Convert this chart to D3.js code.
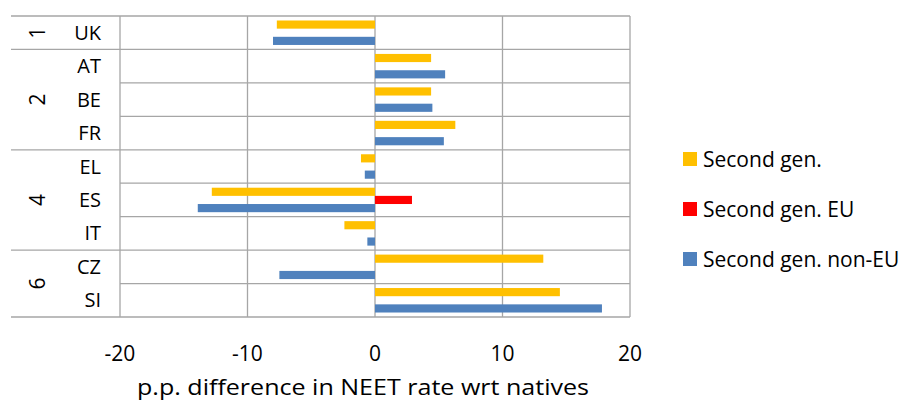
<!DOCTYPE html>
<html><head><meta charset="utf-8">
<script src="https://cdn.jsdelivr.net/npm/d3@7"></script>
<style>body{margin:0;background:#fff}text{font-family:"Open Sans",sans-serif;fill:#000}</style>
</head><body><svg id="c" width="921" height="403"></svg>
<script>
const countries = ["UK","AT","BE","FR","EL","ES","IT","CZ","SI"];
const groups = [{name:"1", from:0, to:1},{name:"2", from:1, to:4},{name:"4", from:4, to:7},{name:"6", from:7, to:9}];
const secondGen = [-7.7,4.4,4.4,6.3,-1.1,-12.8,-2.4,13.2,14.5];
const secondGenEU = [null,null,null,null,null,2.9,null,null,null];
const secondGenNonEU = [-8.0,5.5,4.5,5.4,-0.8,-13.9,-0.6,-7.5,17.8];
const seriesNames = ["Second gen.","Second gen. EU","Second gen. non-EU"];
const colors = ["#FFC000","#FF0000","#4F81BD"];
const xTicks = [-20,-10,0,10,20];

const svg = d3.select("#c");
const L = 120, R = 630, T = 16, B = 317;
const x = d3.scaleLinear().domain([-20,20]).range([L,R]);
const y = d3.scaleBand().domain(countries).range([T,B]);
const sub = d3.scaleBand().domain([0,1,2]).range([0,y.bandwidth()]).paddingInner(0).paddingOuter(0.55);
const line = "#a6a6a6";

// vertical gridlines
svg.selectAll(".vg").data(xTicks).join("line")
  .attr("x1",d=>x(d)).attr("x2",d=>x(d)).attr("y1",T).attr("y2",B)
  .attr("stroke",line).attr("stroke-width",1.3);
// row lines in plot
svg.selectAll(".hg").data(d3.range(countries.length+1)).join("line")
  .attr("x1",L).attr("x2",R)
  .attr("y1",i=>T+i*y.step()).attr("y2",i=>T+i*y.step())
  .attr("stroke",line).attr("stroke-width",1.3);
// group lines extending left
svg.selectAll(".gl").data([0,...groups.map(g=>g.to)]).join("line")
  .attr("x1",11).attr("x2",L)
  .attr("y1",i=>T+i*y.step()).attr("y2",i=>T+i*y.step())
  .attr("stroke",line).attr("stroke-width",1.3);

const series = [secondGen, secondGenEU, secondGenNonEU];
series.forEach((vals,si)=>{
  svg.append("g").selectAll("rect").data(vals.map((v,i)=>({v,c:countries[i]})).filter(d=>d.v!==null)).join("rect")
    .attr("x",d=>x(Math.min(0,d.v))).attr("width",d=>Math.abs(x(d.v)-x(0)))
    .attr("y",d=>y(d.c)+sub(si)).attr("height",sub.bandwidth())
    .attr("fill",colors[si]);
});

svg.selectAll(".cl").data(countries).join("text")
  .attr("x",101).attr("y",d=>y(d)+y.bandwidth()/2+7).attr("text-anchor","end")
  .attr("font-size",20).text(d=>d);
svg.selectAll(".gn").data(groups).join("text")
  .attr("transform",g=>`translate(${45},${T+(g.from+g.to)/2*y.step()}) rotate(-90)`)
  .attr("text-anchor","middle").attr("font-size",21).text(g=>g.name);

svg.selectAll(".xt").data(xTicks).join("text")
  .attr("x",d=>x(d)).attr("y",361).attr("text-anchor","middle").attr("font-size",21).text(d=>d);
svg.append("text").attr("x",363).attr("y",395).attr("text-anchor","middle").attr("font-size",22)
  .attr("textLength",452).attr("lengthAdjust","spacingAndGlyphs")
  .text("p.p. difference in NEET rate wrt natives");

const lg = svg.append("g").selectAll("g").data(seriesNames).join("g")
  .attr("transform",(d,i)=>`translate(683,${163+i*50})`);
lg.append("rect").attr("x",0).attr("y",-11).attr("width",14).attr("height",14).attr("fill",(d,i)=>colors[i]);
lg.append("text").attr("x",20).attr("y",4).attr("font-size",21).text(d=>d);
</script></body></html>
